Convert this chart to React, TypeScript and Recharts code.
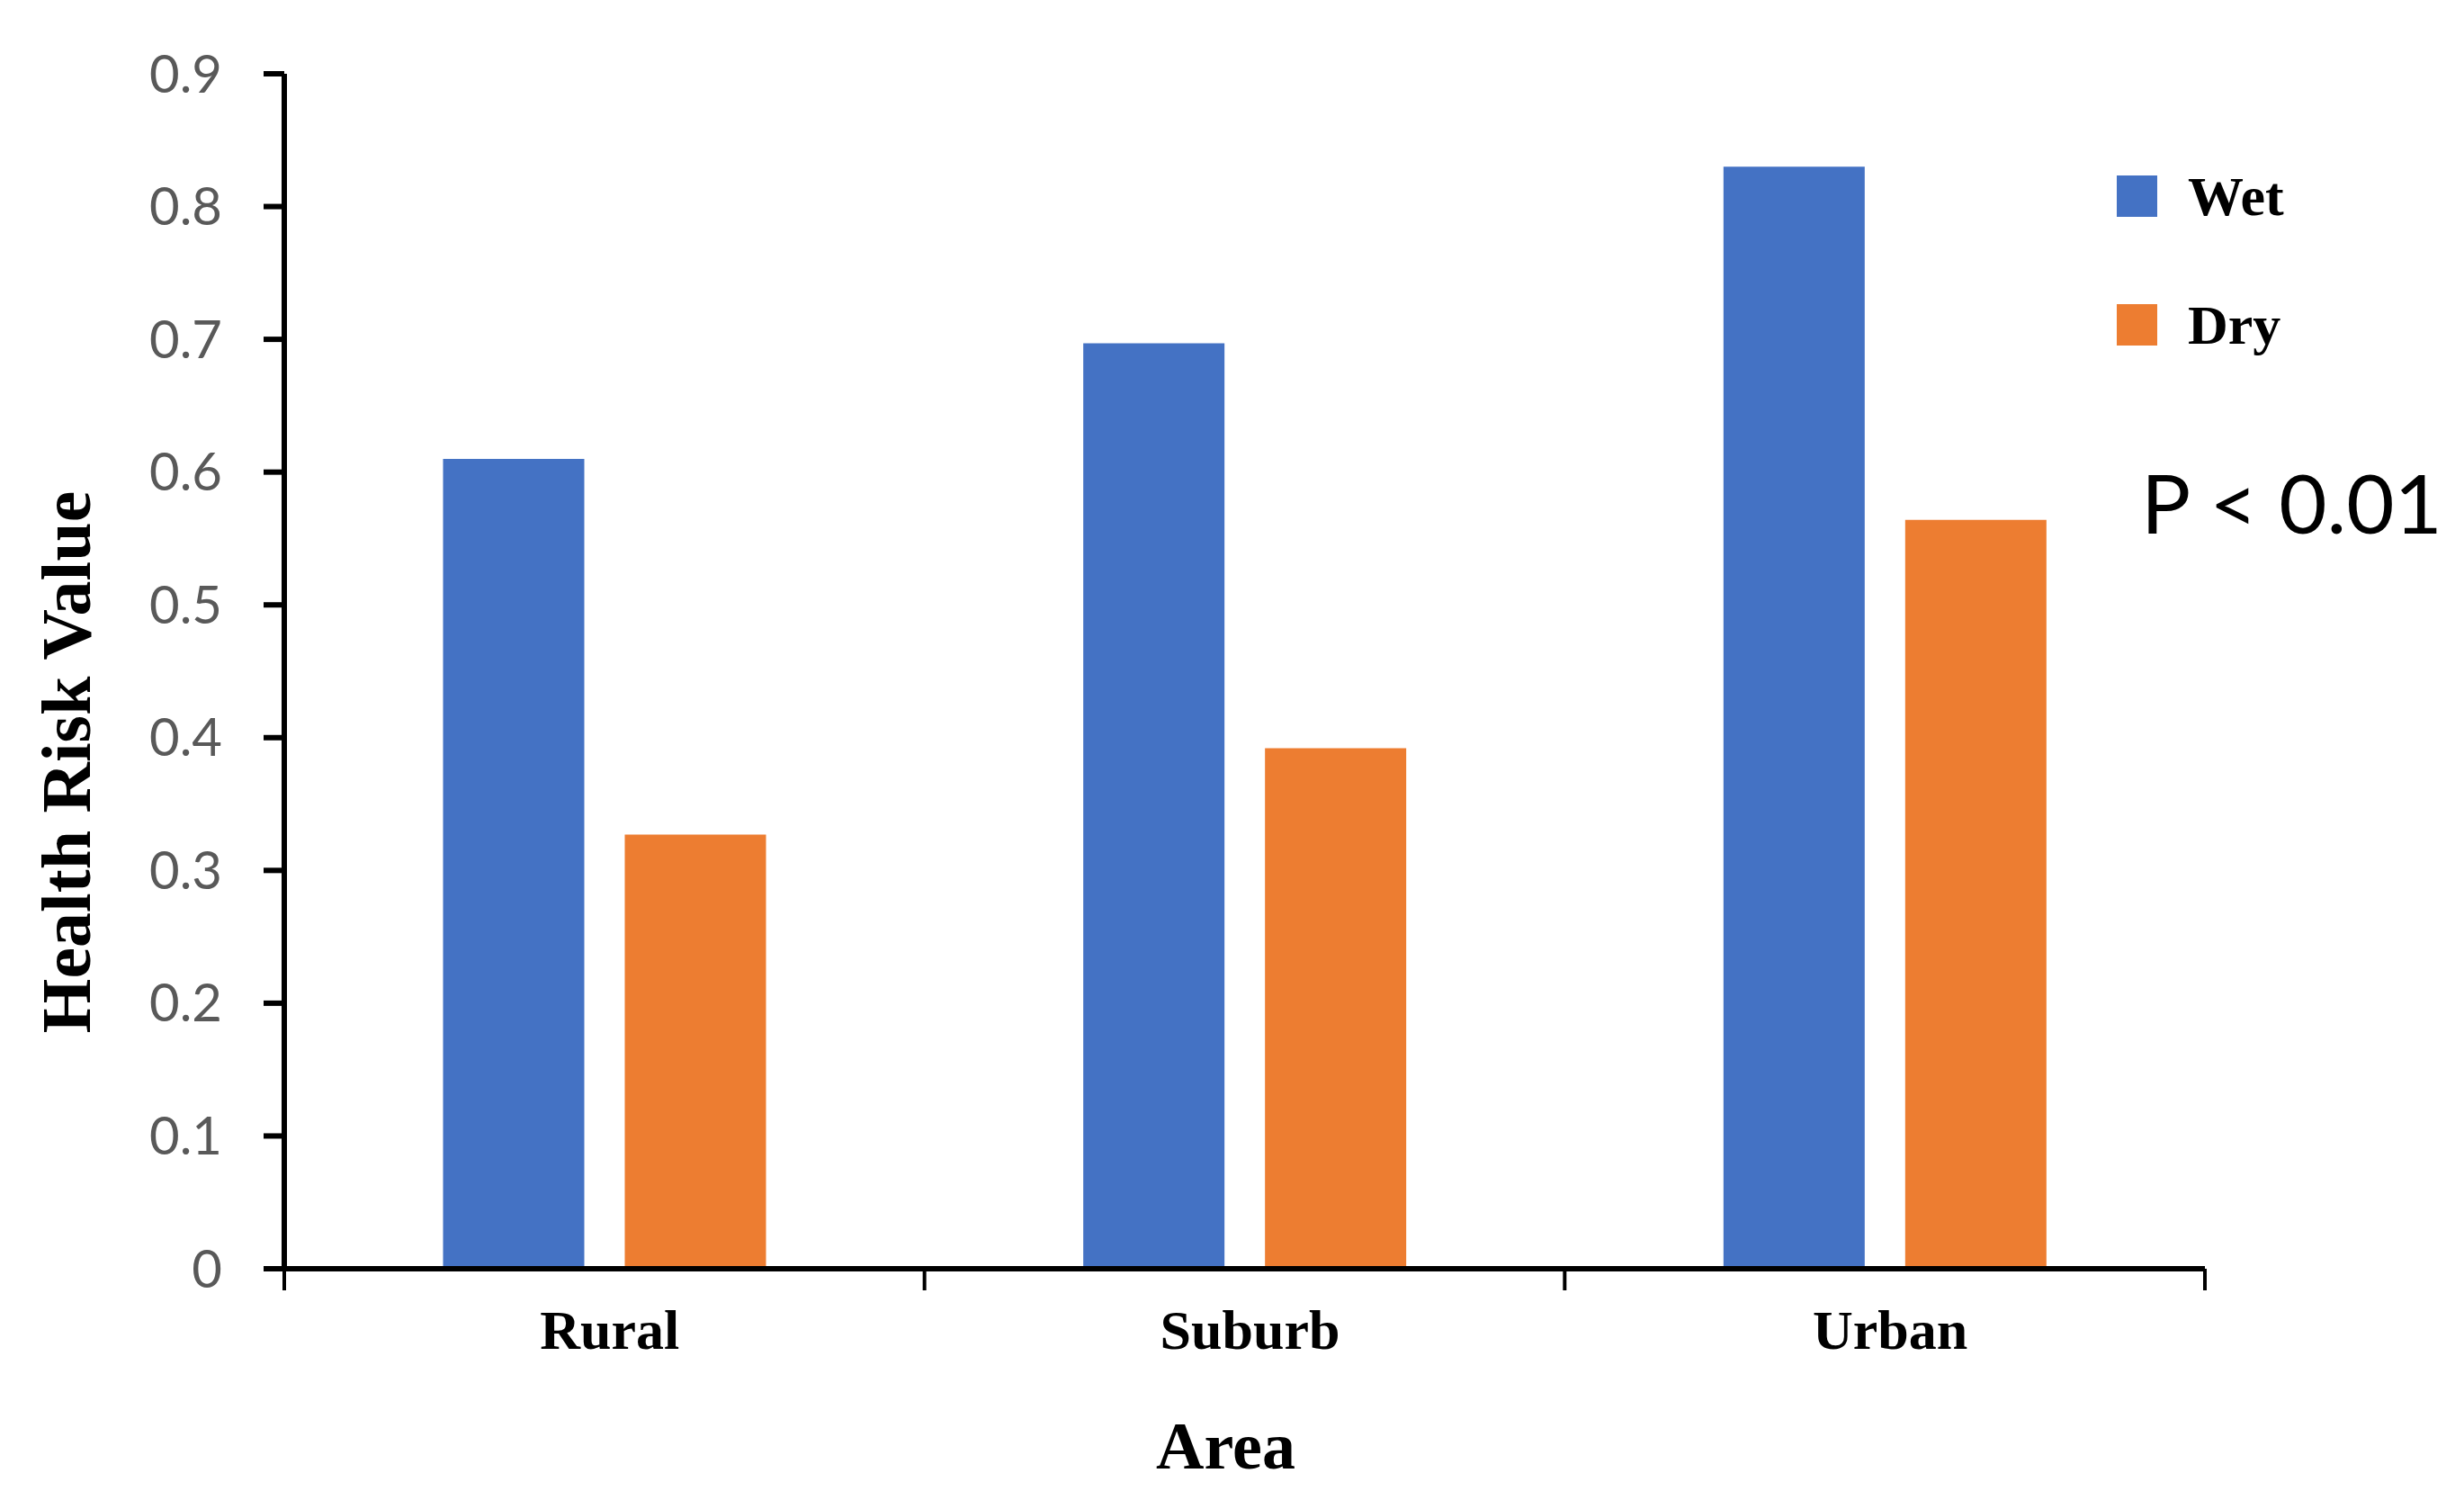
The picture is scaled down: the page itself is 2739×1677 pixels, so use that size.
import React from 'react';
import { BarChart, Bar, XAxis, YAxis, Legend, Label, Customized } from 'recharts';

const areas = ['Rural', 'Suburb', 'Urban'];
const seriesNames = ['Wet', 'Dry'];
const wetValues = [0.61, 0.697, 0.83];
const dryValues = [0.327, 0.392, 0.564];
const yTicks = [0, 0.1, 0.2, 0.3, 0.4, 0.5, 0.6, 0.7, 0.8, 0.9];

const data = areas.map((area, i) => ({ area, Wet: wetValues[i], Dry: dryValues[i] }));

const CHART_W = 2739;
const CHART_H = 1677;
const MARGIN = { top: 82, right: 288, bottom: 0, left: 0 };
const Y_AXIS_W = 316;
const X_AXIS_H = 267;
const PLOT_W = CHART_W - MARGIN.left - MARGIN.right - Y_AXIS_W;
const X_TICK_SIZE = 24;
const X_TICK_MARGIN = 10;

const serif = '"Liberation Serif", "Times New Roman", serif';
const sans = 'Lato, "Open Sans", sans-serif';

function AreaTick(props: any) {
  const { x, y, payload, index } = props;
  const band = PLOT_W / areas.length;
  const axisY = y - X_TICK_SIZE - X_TICK_MARGIN;
  const left = x - band / 2;
  const right = x + band / 2;
  return (
    <g>
      <line x1={left} x2={left} y1={axisY} y2={axisY + X_TICK_SIZE} stroke="#000" strokeWidth={4} />
      {index === areas.length - 1 && (
        <line x1={right} x2={right} y1={axisY} y2={axisY + X_TICK_SIZE} stroke="#000" strokeWidth={4} />
      )}
      <text x={x + 6} y={axisY + 89} textAnchor="middle" fontFamily={serif} fontWeight="bold" fontSize={62} fill="#000">
        {payload.value}
      </text>
    </g>
  );
}

function renderLegend(props: any) {
  const items = [...props.payload].sort(
    (a: any, b: any) => seriesNames.indexOf(a.value) - seriesNames.indexOf(b.value)
  );
  return (
    <div>
      {items.map((entry: any) => (
        <div key={entry.value} style={{ display: 'flex', alignItems: 'center', height: 46, marginBottom: 97 }}>
          <span style={{ width: 45, height: 46, background: entry.color, display: 'inline-block' }} />
          <span style={{ marginLeft: 34, fontFamily: serif, fontWeight: 'bold', fontSize: 62, lineHeight: 1, color: '#000' }}>
            {entry.value}
          </span>
        </div>
      ))}
    </div>
  );
}

export default function App() {
  return (
    <div style={{ width: CHART_W, height: CHART_H, background: '#fff' }}>
      <style>{'body { margin: 0; }'}</style>
      <BarChart width={CHART_W} height={CHART_H} data={data} margin={MARGIN} barGap={45} barCategoryGap="24.8%">
        <XAxis
          dataKey="area"
          height={X_AXIS_H}
          axisLine={{ stroke: '#000', strokeWidth: 6 }}
          tickLine={false}
          tickSize={X_TICK_SIZE}
          tickMargin={X_TICK_MARGIN}
          tick={<AreaTick />}
          interval={0}
        >
          <Label
            content={(p: any) => {
              const vb = p.viewBox;
              return (
                <text x={vb.x + vb.width / 2 - 21} y={vb.y + 222} textAnchor="middle" fontFamily={serif} fontWeight="bold" fontSize={74} fill="#000">
                  Area
                </text>
              );
            }}
          />
        </XAxis>
        <YAxis
          width={Y_AXIS_W}
          domain={[0, 0.9]}
          ticks={yTicks}
          interval={0}
          axisLine={{ stroke: '#000', strokeWidth: 6 }}
          tickLine={{ stroke: '#000', strokeWidth: 6 }}
          tickSize={23}
          tickMargin={46}
          tickFormatter={(v: number) => (v === 0 ? '0' : v.toFixed(1))}
          tick={{ fill: '#595959', fontSize: 58, fontFamily: sans }}
        >
          <Label
            content={(p: any) => {
              const vb = p.viewBox;
              const cx = 100;
              const cy = vb.y + vb.height / 2 + 101;
              return (
                <text x={cx} y={cy} transform={`rotate(-90, ${cx}, ${cy})`} textAnchor="middle" fontFamily={serif} fontWeight="bold" fontSize={78} fill="#000">
                  Health Risk Value
                </text>
              );
            }}
          />
        </YAxis>
        <Legend
          layout="vertical"
          align="center"
          verticalAlign="middle"
          content={renderLegend}
          wrapperStyle={{ left: 2353, top: 195, width: 'auto', height: 'auto' }}
        />
        <Bar dataKey="Wet" fill="#4472C4" isAnimationActive={false} />
        <Bar dataKey="Dry" fill="#ED7D31" isAnimationActive={false} />
        <Customized
          component={() => (
            <text x={2380} y={593} fontFamily={sans} fontSize={92} fill="#000">
              P &lt; 0.01
            </text>
          )}
        />
      </BarChart>
    </div>
  );
}
